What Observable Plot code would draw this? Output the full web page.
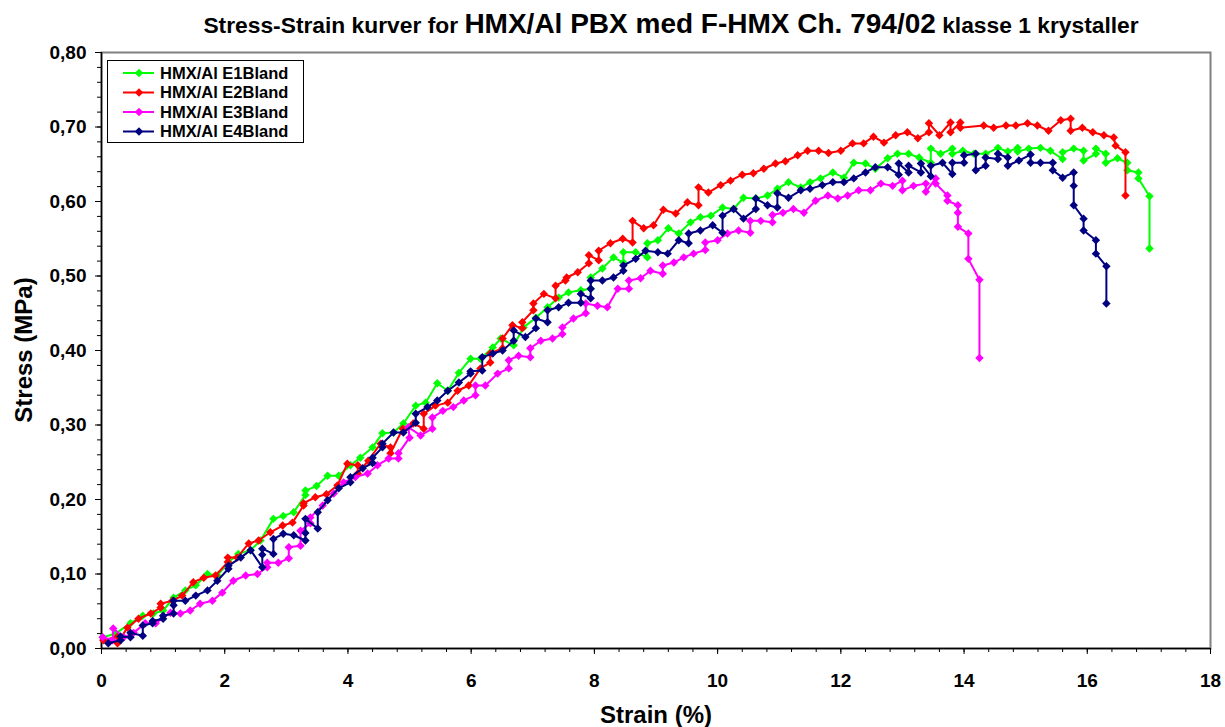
<!DOCTYPE html>
<html><head><meta charset="utf-8">
<script src="https://cdn.jsdelivr.net/npm/d3@7"></script>
<script src="https://cdn.jsdelivr.net/npm/@observablehq/plot@0.6"></script>
<style>
body{margin:0;background:#fff;}
#wrap{position:relative;width:1225px;height:727px;font-family:"Liberation Sans",Arial,sans-serif;}
#wrap svg{position:absolute;left:0;top:0;}
</style></head><body><div id="wrap"></div>
<script>
const titleParts = ["Stress-Strain kurver for ", "HMX/Al PBX med F-HMX Ch. 794/02", " klasse 1 krystaller"];
const xLabel = "Strain (%)";
const yLabel = "Stress (MPa)";
const seriesNames = ["HMX/Al E1Bland", "HMX/Al E2Bland", "HMX/Al E3Bland", "HMX/Al E4Bland"];
const seriesColors = ["#00FF00", "#FF0000", "#FF00FF", "#000080"];
const xTicks = [0, 2, 4, 6, 8, 10, 12, 14, 16, 18];
const yTicks = [0, 0.1, 0.2, 0.3, 0.4, 0.5, 0.6, 0.7, 0.8];

const e1Strain = [0.02,0.23,0.47,0.67,0.84,1.00,1.17,1.36,1.53,1.72,1.88,2.06,2.22,2.42,2.58,2.79,2.95,3.12,3.31,3.31,3.49,3.67,3.85,4.04,4.20,4.40,4.56,4.74,4.90,5.10,5.26,5.45,5.62,5.80,5.99,6.15,6.35,6.48,6.69,6.85,7.05,7.24,7.42,7.58,7.78,7.94,7.94,8.13,8.31,8.47,8.47,8.67,8.86,8.86,9.03,9.20,9.37,9.56,9.72,9.89,10.08,10.26,10.42,10.62,10.81,10.97,11.15,11.35,11.50,11.67,11.87,12.05,12.21,12.40,12.56,12.76,12.92,13.10,13.27,13.46,13.46,13.62,13.81,13.81,13.98,14.16,14.35,14.55,14.71,14.87,14.87,15.05,15.24,15.40,15.60,15.60,15.78,15.94,15.94,16.14,16.14,16.30,16.30,16.49,16.65,16.65,16.83,16.83,17.01,17.01];
const e1Stress = [0.015,0.020,0.034,0.044,0.047,0.051,0.068,0.078,0.085,0.100,0.098,0.116,0.127,0.132,0.145,0.174,0.178,0.183,0.206,0.212,0.218,0.232,0.232,0.246,0.256,0.270,0.289,0.290,0.302,0.326,0.330,0.356,0.346,0.370,0.389,0.389,0.404,0.416,0.407,0.431,0.444,0.458,0.471,0.478,0.481,0.483,0.498,0.510,0.525,0.518,0.532,0.532,0.525,0.544,0.548,0.564,0.557,0.572,0.579,0.581,0.592,0.590,0.605,0.604,0.608,0.617,0.626,0.619,0.626,0.631,0.639,0.632,0.652,0.651,0.644,0.658,0.664,0.664,0.659,0.652,0.671,0.664,0.671,0.664,0.668,0.664,0.664,0.672,0.667,0.672,0.667,0.671,0.672,0.668,0.657,0.666,0.671,0.668,0.655,0.664,0.671,0.664,0.652,0.658,0.652,0.642,0.639,0.631,0.607,0.537];

const e2Strain = [0.03,0.26,0.26,0.42,0.60,0.80,0.96,0.96,1.15,1.31,1.49,1.66,1.85,2.05,2.05,2.20,2.39,2.55,2.74,2.94,3.10,3.28,3.28,3.47,3.65,3.83,3.99,4.16,4.16,4.33,4.53,4.69,4.69,4.89,5.06,5.23,5.23,5.42,5.62,5.78,5.96,6.15,6.31,6.31,6.51,6.51,6.67,6.83,6.83,7.01,7.01,7.18,7.37,7.37,7.53,7.55,7.73,7.91,7.91,8.07,8.07,8.26,8.46,8.62,8.62,8.80,8.96,9.12,9.32,9.51,9.69,9.69,9.85,10.05,10.21,10.40,10.58,10.75,10.94,11.10,11.30,11.46,11.64,11.80,12.00,12.19,12.37,12.53,12.70,12.89,13.08,13.25,13.43,13.43,13.60,13.78,13.78,13.94,13.94,14.32,14.48,14.68,14.84,15.03,15.19,15.37,15.57,15.73,15.73,15.92,16.09,16.27,16.43,16.46,16.62,16.62];
const e2Stress = [0.011,0.016,0.007,0.028,0.040,0.047,0.055,0.060,0.064,0.071,0.089,0.095,0.098,0.116,0.122,0.122,0.141,0.145,0.156,0.165,0.169,0.192,0.195,0.203,0.207,0.219,0.248,0.246,0.235,0.252,0.275,0.270,0.262,0.295,0.302,0.295,0.315,0.326,0.330,0.346,0.353,0.376,0.384,0.396,0.403,0.416,0.434,0.430,0.438,0.454,0.463,0.476,0.470,0.487,0.494,0.498,0.505,0.517,0.528,0.521,0.534,0.544,0.550,0.545,0.574,0.564,0.568,0.589,0.584,0.599,0.595,0.619,0.612,0.622,0.628,0.636,0.638,0.644,0.651,0.654,0.662,0.668,0.668,0.665,0.668,0.678,0.678,0.687,0.679,0.689,0.693,0.685,0.693,0.705,0.689,0.706,0.693,0.706,0.699,0.702,0.699,0.702,0.702,0.705,0.702,0.695,0.709,0.711,0.695,0.699,0.693,0.689,0.686,0.675,0.666,0.608];

const e3Strain = [0.02,0.18,0.19,0.36,0.52,0.71,0.88,1.12,1.28,1.44,1.60,1.80,1.96,2.14,2.34,2.53,2.69,2.69,2.87,3.04,3.04,3.23,3.23,3.39,3.39,3.59,3.77,3.93,4.12,4.32,4.48,4.66,4.82,4.82,5.00,4.98,5.18,5.37,5.37,5.54,5.71,5.88,6.07,6.07,6.23,6.43,6.61,6.61,6.77,6.96,6.96,7.13,7.32,7.48,7.48,7.66,7.86,7.86,8.05,8.21,8.38,8.56,8.56,8.75,8.91,9.11,9.11,9.29,9.45,9.61,9.80,9.80,10.00,10.16,10.34,10.53,10.53,10.70,10.89,10.89,11.06,11.23,11.40,11.59,11.79,11.95,12.11,12.29,12.48,12.65,12.84,13.00,13.00,13.18,13.38,13.38,13.54,13.54,13.73,13.73,13.90,13.90,13.90,14.07,14.07,14.25,14.25];
const e3Stress = [0.015,0.011,0.027,0.015,0.021,0.034,0.034,0.048,0.047,0.051,0.060,0.064,0.075,0.091,0.098,0.100,0.109,0.115,0.115,0.121,0.136,0.138,0.158,0.168,0.176,0.192,0.208,0.223,0.230,0.235,0.246,0.255,0.255,0.262,0.283,0.297,0.286,0.295,0.310,0.319,0.324,0.333,0.340,0.353,0.353,0.369,0.376,0.387,0.393,0.391,0.403,0.413,0.416,0.422,0.431,0.443,0.450,0.463,0.460,0.458,0.483,0.483,0.494,0.497,0.507,0.503,0.514,0.518,0.525,0.530,0.535,0.545,0.548,0.557,0.561,0.558,0.574,0.574,0.572,0.582,0.585,0.590,0.585,0.601,0.608,0.604,0.608,0.615,0.615,0.624,0.621,0.628,0.615,0.621,0.624,0.613,0.631,0.624,0.608,0.601,0.595,0.585,0.566,0.557,0.523,0.495,0.390];

const e4Strain = [0.11,0.31,0.31,0.47,0.47,0.67,0.67,0.83,0.83,1.00,1.00,1.17,1.17,1.17,1.36,1.53,1.72,1.88,2.06,2.06,2.26,2.42,2.61,2.61,2.61,2.79,2.79,2.95,3.12,3.31,3.31,3.31,3.51,3.51,3.67,3.85,4.04,4.04,4.24,4.40,4.40,4.56,4.56,4.74,4.90,5.10,5.10,5.29,5.45,5.62,5.80,5.99,5.99,6.18,6.18,6.35,6.51,6.69,6.69,6.88,7.05,7.05,7.24,7.24,7.42,7.58,7.78,7.78,7.94,7.94,7.94,8.13,8.31,8.47,8.47,8.67,8.83,9.03,9.19,9.37,9.53,9.53,9.72,9.92,10.08,10.08,10.26,10.42,10.62,10.62,10.81,10.97,10.97,11.15,11.35,11.50,11.70,11.87,12.05,12.21,12.40,12.56,12.76,12.94,12.94,13.10,13.10,13.30,13.30,13.46,13.46,13.65,13.81,13.81,14.00,14.00,14.19,14.19,14.35,14.35,14.55,14.55,14.71,14.71,14.89,15.08,15.08,15.24,15.44,15.44,15.60,15.78,15.78,15.78,15.94,15.94,16.14,16.14,16.31,16.31];
const e4Stress = [0.007,0.011,0.016,0.015,0.021,0.017,0.031,0.034,0.037,0.040,0.044,0.047,0.058,0.064,0.064,0.071,0.078,0.091,0.107,0.111,0.122,0.132,0.109,0.126,0.134,0.127,0.147,0.154,0.152,0.145,0.155,0.174,0.161,0.183,0.199,0.215,0.223,0.230,0.242,0.249,0.256,0.270,0.275,0.290,0.290,0.303,0.315,0.324,0.333,0.346,0.357,0.369,0.372,0.373,0.391,0.396,0.400,0.413,0.427,0.418,0.430,0.443,0.438,0.454,0.458,0.464,0.464,0.476,0.470,0.483,0.494,0.494,0.498,0.507,0.514,0.523,0.534,0.532,0.530,0.548,0.544,0.557,0.561,0.568,0.558,0.581,0.590,0.577,0.590,0.604,0.595,0.592,0.611,0.605,0.615,0.617,0.622,0.626,0.626,0.631,0.639,0.646,0.646,0.636,0.651,0.639,0.648,0.639,0.651,0.634,0.648,0.652,0.637,0.652,0.652,0.662,0.664,0.642,0.648,0.659,0.657,0.664,0.659,0.648,0.655,0.663,0.652,0.652,0.652,0.642,0.632,0.639,0.621,0.595,0.577,0.561,0.548,0.530,0.513,0.463];

const strainArrays = [e1Strain, e2Strain, e3Strain, e4Strain];
const stressArrays = [e1Stress, e2Stress, e3Stress, e4Stress];
const series = seriesNames.map((name, i) => ({
  name, color: seriesColors[i],
  rows: strainArrays[i].map((s, j) => ({strain: s, stress: stressArrays[i][j]}))
}));

const xMinor = d3.range(0, 46).map(k => k * 0.4);
const yMinor = d3.range(0, 41).map(k => k * 0.02);
const fmtY = d => d3.format(".2f")(d).replace(".", ",");
const markerR = 3.8;

const seriesMarks = series.flatMap(s => [
  Plot.line(s.rows, {x: "strain", y: "stress", stroke: s.color, strokeWidth: 2}),
  Plot.dot(s.rows, {x: "strain", y: "stress", symbol: "diamond2", r: markerR, fill: s.color, stroke: "none"})
]);

const chart = Plot.plot({
  width: 1225, height: 727,
  marginLeft: 101, marginRight: 15, marginTop: 52, marginBottom: 79,
  x: {domain: [0, 18]},
  y: {domain: [0, 0.8]},
  style: {fontFamily: "'Liberation Sans', Arial, sans-serif", fontWeight: "bold", fontSize: "19px", color: "#000", background: "white", overflow: "visible"},
  marks: [
    Plot.frame({stroke: "#808080", strokeWidth: 2}),
    Plot.axisX(xMinor, {tickSize: 4, tickFormat: () => "", label: null}),
    Plot.axisX(xTicks, {tickSize: 6, tickPadding: 19, tickFormat: d => String(d), label: null, fontSize: 19}),
    Plot.axisY(yMinor, {tickSize: 4, tickFormat: () => "", label: null}),
    Plot.axisY(yTicks, {tickSize: 6, tickPadding: 9, tickFormat: fmtY, label: null, fontSize: 19}),
    Plot.ruleX([0], {stroke: "#000", strokeWidth: 1.5}),
    Plot.ruleY([0], {stroke: "#000", strokeWidth: 1.5}),
    ...seriesMarks
  ]
});
const wrap = document.getElementById("wrap");
wrap.appendChild(chart);

// overlay: title, axis titles, legend
const ov = d3.select(wrap).append("svg")
  .attr("width", 1225).attr("height", 727)
  .style("pointer-events", "none")
  .attr("font-family", "'Liberation Sans', Arial, sans-serif")
  .attr("font-weight", "bold");

const t = ov.append("text").attr("x", 671).attr("y", 33).attr("text-anchor", "middle").style("white-space", "pre");
const tSizes = [22.8, 28, 22.8];
titleParts.forEach((p, i) => t.append("tspan").attr("font-size", tSizes[i]).text(p));

ov.append("text").attr("x", 656).attr("y", 723).attr("text-anchor", "middle").attr("font-size", 24).text(xLabel);
ov.append("text").attr("transform", "translate(32,350) rotate(-90)").attr("text-anchor", "middle").attr("font-size", 24).text(yLabel);

const lg = ov.append("g");
lg.append("rect").attr("x", 107.5).attr("y", 60.5).attr("width", 196).attr("height", 82).attr("fill", "white").attr("stroke", "#000").attr("stroke-width", 1);
series.forEach((s, i) => {
  const cy = 73 + i * 19.5;
  lg.append("line").attr("x1", 123).attr("x2", 154).attr("y1", cy).attr("y2", cy).attr("stroke", s.color).attr("stroke-width", 2);
  lg.append("path").attr("d", d3.symbol(d3.symbolDiamond2, Math.PI * markerR * markerR)()).attr("transform", `translate(139,${cy})`).attr("fill", s.color);
  lg.append("text").attr("x", 160).attr("y", cy).attr("dy", "0.36em").attr("font-size", 16.5).text(s.name);
});
</script></body></html>
